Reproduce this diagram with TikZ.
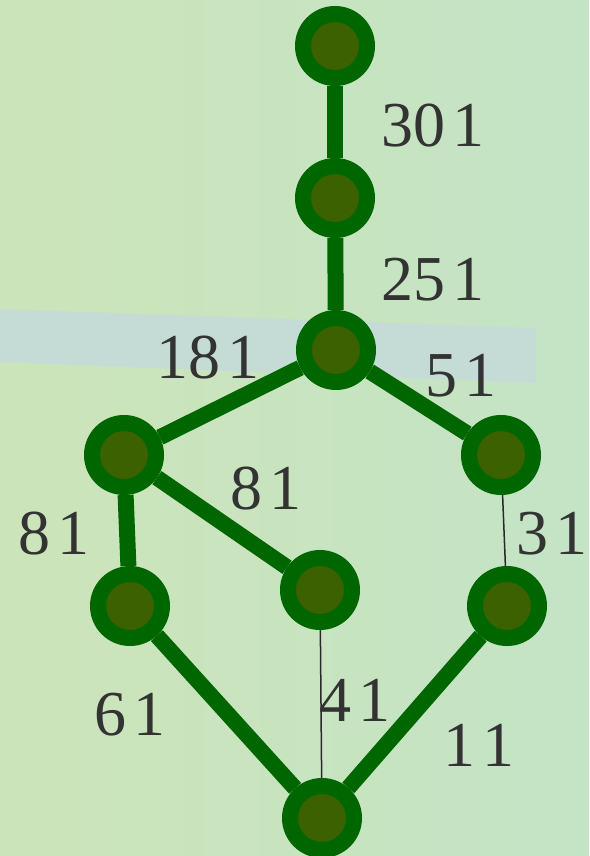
\documentclass[tikz,border=0pt]{standalone}
\usepackage{fontspec}
\setmainfont{Liberation Serif}
\usetikzlibrary{positioning,backgrounds}
\definecolor{bgleft}{HTML}{CCE4B9}
\definecolor{bgright}{HTML}{C4E4C6}
\definecolor{bgband}{HTML}{C5DCD6}
\definecolor{ringgreen}{HTML}{006600}
\definecolor{coregreen}{HTML}{3B6100}
\definecolor{txtgrey}{HTML}{333333}
\tikzset{
  vtx/.style ={circle, draw=ringgreen, line width=16pt, fill=coregreen,
               minimum size=64pt, inner sep=0pt},
  fl/.style  ={line width=16pt, draw=ringgreen},
  fln/.style ={line width=1.5pt, draw=txtgrey!80!black},
  lbl/.style ={font=\fontsize{64}{64}\selectfont, text=txtgrey, inner sep=0pt}
}
\newcommand{\gap}{\hspace{0.1em}}

\begin{document}
\begin{tikzpicture}[x=1pt, y=-1pt]
  % backdrop
  \useasboundingbox (0,0) rectangle (589,856);
  \shade[left color=bgleft, right color=bgright] (0,0) rectangle (589,856);
  \fill[bgband] (0,309) -- (536,328) -- (536,383) -- (0,362) -- cycle;

  % vertices
  \node[vtx] (n1) at (335,46)  {};
  \node[vtx] (n2) at (335,198) {};
  \node[vtx] (n3) at (336,350) {};
  \node[vtx] (n4) at (124,455) {};
  \node[vtx] (n5) at (501,455) {};
  \node[vtx] (n6) at (130,606) {};
  \node[vtx] (n7) at (320,590) {};
  \node[vtx] (n8) at (507,606) {};
  \node[vtx] (n9) at (322,818) {};

  % edges
  \draw[fl] (n1)--(n2); \draw[fl] (n2)--(n3);
  \draw[fl] (n3)--(n4); \draw[fl] (n3)--(n5);
  \draw[fl] (n4)--(n6); \draw[fl] (n4)--(n7);
  \draw[fl] (n6)--(n9); \draw[fl] (n8)--(n9);
  \draw[fln] (n5)--(n8); \draw[fln] (n7)--(n9);

  % weights
  \node[lbl] (w12) at (433,126) {30\gap1};
  \node[lbl] (w23) at (433,280) {25\gap1};
  \node[lbl] (w34) at (208,358) {18\gap1};
  \node[lbl] (w35) at (461,376) {5\gap1};
  \node[lbl] (w47) at (266,489) {8\gap1};
  \node[lbl] (w46) at (54,534)  {8\gap1};
  \node[lbl] (w58) at (552,534) {3\gap1};
  \node[lbl] (w69) at (130,715) {6\gap1};
  \node[lbl] (w79) at (355,700) {4\gap1};
  \node[lbl] (w89) at (479,745) {1\gap1};
\end{tikzpicture}
\end{document}
